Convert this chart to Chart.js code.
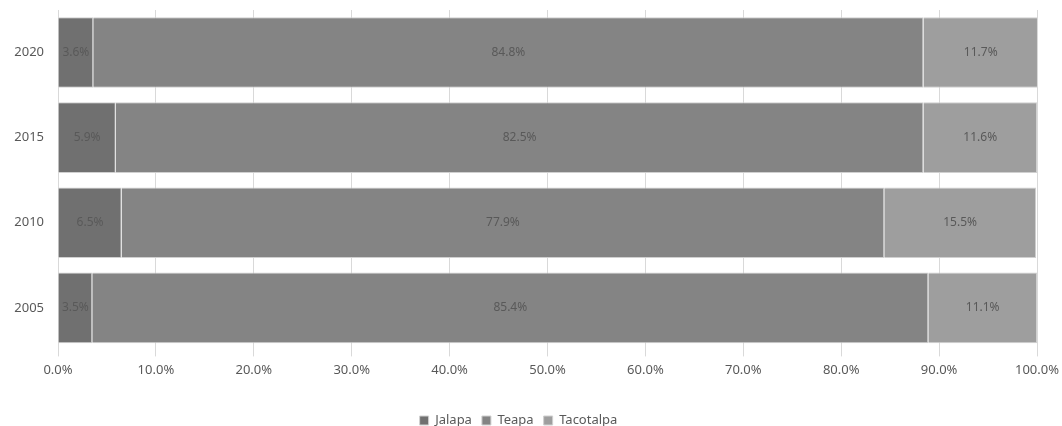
<!DOCTYPE html>
<html>
<head>
<meta charset="utf-8">
<script src="https://cdn.jsdelivr.net/npm/chart.js@4"></script>
<style>
  html, body { margin: 0; padding: 0; background: #fff; }
  #wrap { width: 1062px; height: 426px; }
</style>
</head>
<body>
<div id="wrap"><canvas id="myChart"></canvas></div>
<script>
// years, top to bottom
const years = ['2020', '2015', '2010', '2005'];

// share of each municipality (%)
const jalapa = [3.6, 5.9, 6.5, 3.5];
const teapa = [84.8, 82.5, 77.9, 85.4];
const tacotalpa = [11.7, 11.6, 15.5, 11.1];

const textColor = '#595959';
const fontFamily = '"Noto Sans", sans-serif';

// draw the percentage labels in the middle of every segment
const barLabels = {
  id: 'barLabels',
  afterDatasetsDraw(chart) {
    const ctx = chart.ctx;
    ctx.save();
    ctx.font = '12px ' + fontFamily;
    ctx.fillStyle = textColor;
    ctx.textAlign = 'center';
    ctx.textBaseline = 'middle';
    chart.data.datasets.forEach(function (ds, i) {
      const meta = chart.getDatasetMeta(i);
      meta.data.forEach(function (bar, j) {
        const p = bar.getCenterPoint();
        ctx.fillText(ds.data[j].toFixed(1) + '%', p.x, p.y);
      });
    });
    ctx.restore();
  }
};

const data = {
  labels: years,
  datasets: [
    { label: 'Jalapa', data: jalapa, backgroundColor: '#707070' },
    { label: 'Teapa', data: teapa, backgroundColor: '#848484' },
    { label: 'Tacotalpa', data: tacotalpa, backgroundColor: '#9e9e9e' }
  ]
};

data.datasets.forEach(function (ds) {
  ds.borderColor = '#d0d0d0';
  ds.borderWidth = 1;
  ds.barPercentage = 0.83;
  ds.categoryPercentage = 1;
});

const config = {
  type: 'bar',
  data: data,
  options: {
    indexAxis: 'y',
    responsive: true,
    maintainAspectRatio: false,
    animation: false,
    layout: { padding: { top: 10, right: 25, left: 0, bottom: -11 } },
    scales: {
      x: {
        stacked: true,
        min: 0,
        max: 100,
        ticks: {
          stepSize: 10,
          color: textColor,
          font: { family: fontFamily, size: 13 },
          padding: 6,
          callback: function (v) { return v.toFixed(1) + '%'; }
        },
        grid: { color: '#d9d9d9', tickLength: 6 },
        border: { display: false },
        afterFit: function (s) {
          s.height += 20;
          s.paddingLeft = 0;
          s.paddingRight = 0;
        }
      },
      y: {
        stacked: true,
        ticks: {
          color: textColor,
          font: { family: fontFamily, size: 13 },
          padding: 14
        },
        grid: { display: false, drawTicks: false },
        border: { display: false },
        afterFit: function (s) {
          s.width = 58;
          s.paddingTop = 0;
          s.paddingBottom = 0;
        }
      }
    },
    plugins: {
      legend: {
        position: 'bottom',
        labels: {
          boxWidth: 9,
          boxHeight: 9,
          padding: 10,
          color: textColor,
          font: { family: fontFamily, size: 13 }
        }
      },
      tooltip: { enabled: false }
    }
  },
  plugins: [barLabels]
};

const myChart = new Chart(document.getElementById('myChart'), config);
</script>
</body>
</html>
